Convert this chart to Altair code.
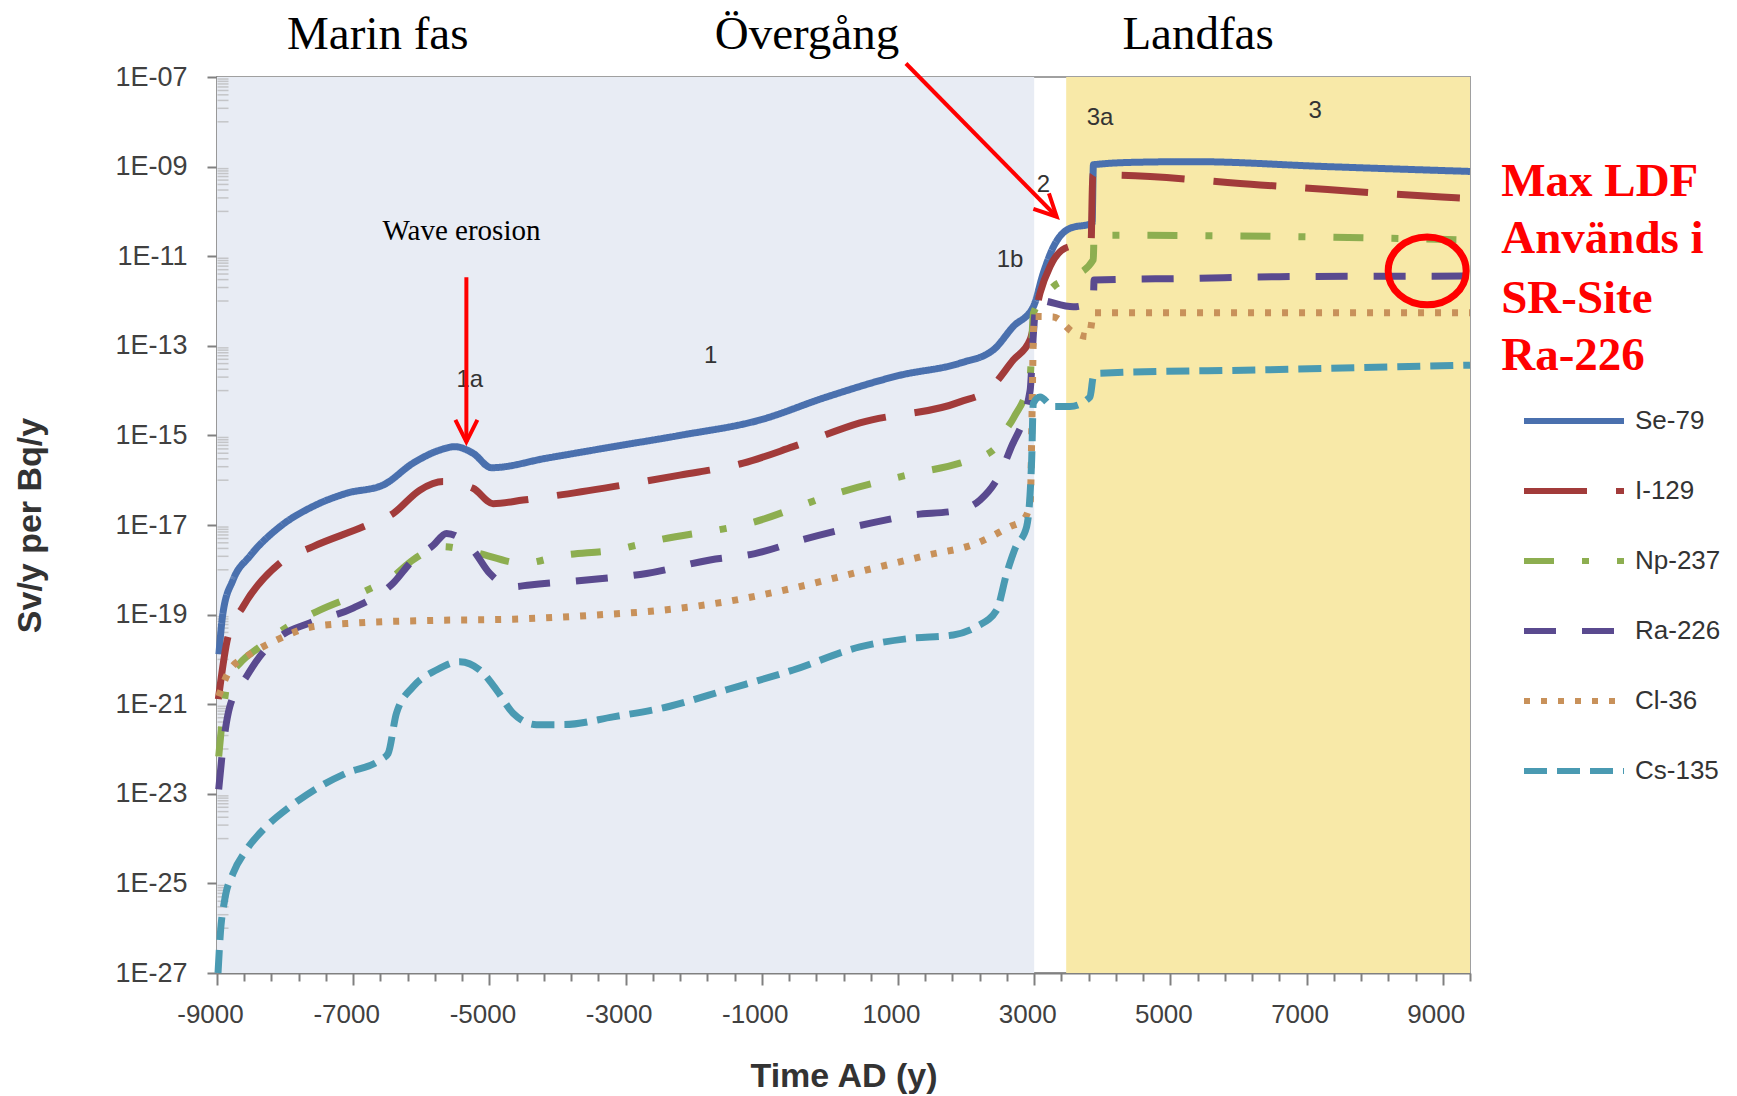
import altair as alt
import pandas as pd

# ---------------- data ----------------
nuclides = ["Se-79", "I-129", "Np-237", "Ra-226", "Cl-36", "Cs-135"]
colors = ["#4A70AE", "#A23B3A", "#8DAE50", "#5A4A8F", "#C8915A", "#4A9AB2"]
dashes = [[1, 0], [63, 29], [30, 28, 7, 28], [32, 26], [6, 11], [23, 10]]

se_x = [-8972, -8912, -8765, -8520, -8079, -7590, -7099, -6561, -6121, -5729, -5508, -5240, -4969, -4161,
        -3183, -2203, -1031, -48, 1029, 1910, 2400, 2693, 2987, 3134, 3281, 3526, 3850, 3870, 4500, 5337,
        7297, 9400]
se_y = [1.3e-20, 1.1e-19, 5.9e-19, 2.0e-18, 9.1e-18, 2.6e-17, 5.1e-17, 7.8e-17, 2.4e-16, 4.7e-16, 5.6e-16,
        4.0e-16, 1.9e-16, 3.1e-16, 5.6e-16, 1.0e-15, 2.2e-15, 7.2e-15, 2.2e-14, 4.1e-14, 8.1e-14, 2.7e-13,
        7.4e-13, 4.2e-12, 1.6e-11, 4.2e-11, 5.4e-11, 1.1e-9, 1.25e-9, 1.29e-9, 1.0e-9, 7.8e-10]

i_x = [-8980, -8839, -8618, -8079, -7590, -6855, -6415, -6022, -5680, -5240, -4946, -4505, -3183, -2203,
       -1273, -539, 441, 1910, 2350, 2693, 2939, 3086, 3233, 3450, 3673, 3835, 3860, 4015, 6317, 8987, 9400]
i_y = [1.3e-21, 3.2e-20, 1.5e-19, 1.4e-18, 3.3e-18, 9.1e-18, 1.8e-17, 6.0e-17, 9.3e-17, 6.6e-17, 3.0e-17,
       3.6e-17, 7.2e-17, 1.3e-16, 2.4e-16, 5.6e-16, 1.9e-15, 5.6e-15, 1.1e-14, 4.8e-14, 1.35e-13, 1.5e-12,
       5.9e-12, 1.5e-11, 1.8e-11, 1.9e-11, 6.5e-10, 6.5e-10, 3.9e-10, 2.1e-10, 1.95e-10]

n_x = [-8975, -8912, -8839, -8667, -8373, -8030, -7491, -6855, -6415, -6121, -5680, -5240, -4505, -3917,
       -3183, -2497, -1175, 99, 1225, 1910, 2400, 2546, 2700, 2940, 2990, 3281, 3575, 3868, 3880, 6660, 9400]
n_y = [6.8e-23, 6.3e-22, 3.5e-21, 8.1e-21, 1.9e-20, 4.6e-20, 1.26e-19, 3.2e-19, 7.1e-19, 1.66e-18, 3.3e-18,
       2.5e-18, 1.4e-18, 2.1e-18, 2.75e-18, 4.7e-18, 1.1e-17, 5.1e-17, 1.4e-16, 2.4e-16, 4.7e-16, 1.1e-15,
       2.5e-15, 2.0e-14, 5.4e-13, 2.1e-12, 3.5e-12, 8.3e-12, 2.95e-11, 2.75e-11, 2.3e-11]

r_x = [-8975, -8912, -8813, -8569, -8373, -8079, -7638, -7002, -6415, -6121, -5827, -5630, -5240, -4994,
       -4652, -4406, -3574, -2692, -1760, -1100, -400, 600, 1200, 1861, 2204, 2498, 2645, 2940, 2990, 3035,
       3575, 3868, 3880, 5300, 6600, 9400]
r_y = [1.26e-23, 1.1e-22, 8.7e-22, 4.1e-21, 1.15e-20, 3.2e-20, 6.5e-20, 1.4e-19, 5.0e-19, 1.66e-18, 3.5e-18,
       6.5e-18, 2.75e-18, 8.3e-19, 4.2e-19, 4.6e-19, 5.9e-19, 8.3e-19, 1.66e-18, 2.3e-18, 4.7e-18, 1.1e-17,
       1.66e-17, 2.1e-17, 3.6e-17, 1.4e-16, 4.7e-16, 1.0e-14, 2.0e-13, 1.05e-12, 7.4e-13, 1.0e-12, 2.95e-12,
       3.2e-12, 3.5e-12, 3.6e-12]

c_x = [-8975, -8813, -8569, -8127, -7590, -6952, -5875, -4652, -3427, -2449, -1517, -539, 441, 1421, 2155,
       2640, 2840, 2940, 3000, 3280, 3575, 3800, 3880, 9400]
c_y = [1.5e-21, 5.8e-21, 1.15e-20, 2.7e-20, 5.4e-20, 6.5e-20, 7.4e-20, 7.9e-20, 9.8e-20, 1.26e-19, 1.95e-19,
       3.9e-19, 9.1e-19, 2.1e-18, 3.9e-18, 9.1e-18, 1.3e-17, 3.0e-17, 4.5e-13, 4.4e-13, 2.0e-13, 1.6e-13,
       5.5e-13, 5.5e-13]

s_x = [-8985, -8950, -8887, -8765, -8569, -8275, -7932, -7491, -7099, -6610, -6488, -6365, -6121, -5777,
       -5435, -5141, -4896, -4652, -4308, -3917, -3183, -2350, -1517, -539, 441, 1176, 1812, 2155, 2449, 2596,
       2720, 2889, 2963, 2987, 3086, 3281, 3526, 3820, 3868, 3966, 6317, 9400]
s_y = [1e-27, 7.9e-27, 4.3e-26, 1.66e-25, 5.6e-25, 1.86e-24, 5.1e-24, 1.45e-23, 2.9e-23, 5.6e-23, 7.9e-23,
       6.3e-22, 2.45e-21, 5.8e-21, 8.9e-21, 5.8e-21, 2.1e-21, 6.3e-22, 3.5e-22, 3.5e-22, 5.2e-22, 9e-22,
       2.1e-21, 5.8e-21, 1.9e-20, 2.95e-20, 3.5e-20, 5.4e-20, 1.26e-19, 8.3e-19, 3e-18, 9.1e-18, 2.8e-16,
       5.2e-15, 7.2e-15, 4.4e-15, 4.4e-15, 7.2e-15, 2.0e-14, 2.45e-14, 2.9e-14, 3.7e-14]

# phase background bands
band_x0 = [-9000, 3470]
band_x1 = [3000, 9400]
band_col = ["#E8ECF4", "#F8E9A8"]

# axis ticks
x_ticks = list(range(-9000, 9401, 400))
y_labels = [1e-7, 1e-9, 1e-11, 1e-13, 1e-15, 1e-17, 1e-19, 1e-21, 1e-23, 1e-25, 1e-27]
y_minor = [k * 10.0 ** (e - 1) for e in range(-7, -26, -2) for k in range(1, 10)]

# annotations
phase_titles = ["Marin fas", "Övergång", "Landfas"]
phase_title_x = [-6639, -337, 5407]
phase_title_y = [4.3e-7, 4.3e-7, 4.3e-7]

zone_labels = ["1a", "1", "1b", "2", "3a", "3"]
zone_x = [-5288, -1752, 2645, 3134, 3967, 7125]
zone_y = [1.74e-14, 5.8e-14, 8.3e-12, 3.9e-10, 1.2e-8, 1.7e-8]

note_lines = ["Max LDF", "Används i", "SR-Site", "Ra-226"]
note_x = [9858, 9858, 9858, 9858]
note_y = [2.2e-10, 1.15e-11, 5.5e-13, 2.9e-14]

arrow_x0 = [-5338, 1117]
arrow_y0 = [3.4e-12, 2.0e-7]
arrow_x1 = [-5338, 3331]
arrow_y1 = [7.2e-16, 7.6e-11]
arrow_angle = [0, 315]

# ---------------- tables ----------------
series = [(se_x, se_y), (i_x, i_y), (n_x, n_y), (r_x, r_y), (c_x, c_y), (s_x, s_y)]
rows = []
for name, (xs, ys) in zip(nuclides, series):
    for k, (xv, yv) in enumerate(zip(xs, ys)):
        rows.append({"nuclide": name, "x": xv, "y": yv, "k": k})
lines_df = pd.DataFrame(rows)

bands_df = pd.DataFrame({"x0": band_x0, "x1": band_x1, "col": band_col,
                         "ylo": [1e-27, 1e-27], "yhi": [1e-7, 1e-7]})
minor_df = pd.DataFrame({"x": [-9000] * len(y_minor), "y": y_minor})
titles_df = pd.DataFrame({"x": phase_title_x, "y": phase_title_y, "t": phase_titles})
zones_df = pd.DataFrame({"x": zone_x, "y": zone_y, "t": zone_labels})
note_df = pd.DataFrame({"x": note_x, "y": note_y, "t": note_lines})
wave_df = pd.DataFrame({"x": [-5410], "y": [2.3e-11], "t": ["Wave erosion"]})
arrows_df = pd.DataFrame({"x": arrow_x0, "y": arrow_y0, "x2": arrow_x1, "y2": arrow_y1, "a": arrow_angle})
circle_df = pd.DataFrame({"x": [8771], "y": [4.7e-12]})

# ---------------- scales / axes ----------------
XS = alt.Scale(domain=[-9000, 9400], nice=False, zero=False)
YS = alt.Scale(type="log", domain=[1e-27, 1e-7], nice=False)

major_test = "(datum.value + 9000) % 2000 == 0"
XA = alt.Axis(
    values=x_ticks, grid=False,
    labelExpr=f"({major_test}) ? '' + datum.value : ''",
    tickSize={"condition": {"test": major_test, "value": 12}, "value": 8},
    tickColor="#808080", tickWidth=2, domainColor="#808080", domainWidth=2,
    labelFont="Liberation Sans", labelFontSize=26, labelColor="#404040", labelPadding=16,
    labelOffset=-7, labelFlush=False, labelOverlap=False,
    title="Time AD (y)", titleFont="Liberation Sans", titleFontSize=34, titleFontWeight="bold",
    titleColor="#333333", titleY=113, titleBaseline="alphabetic",
)
YA = alt.Axis(
    values=y_labels, grid=False,
    labelExpr="'1E-' + (abs(round(log(datum.value)/LN10)) < 10 ? '0' : '') + abs(round(log(datum.value)/LN10))",
    tickSize=10, tickColor="#808080", tickWidth=2, domainColor="#909090", domainWidth=2,
    labelFont="Liberation Sans", labelFontSize=27, labelColor="#404040", labelPadding=20,
    labelFlush=False, labelOverlap=False,
    title="Sv/y per Bq/y", titleFont="Liberation Sans", titleFontSize=34, titleFontWeight="bold",
    titleColor="#333333", titleX=-187, titleY=448, titleAngle=270, titleAlign="center",
    titleBaseline="middle",
)


def X(f="x"):
    return alt.X(f + ":Q", scale=XS, axis=XA)


def Y(f="y"):
    return alt.Y(f + ":Q", scale=YS, axis=YA)


bands = alt.Chart(bands_df).mark_rect().encode(
    x=X("x0"), x2="x1:Q", y=Y("ylo"), y2="yhi:Q",
    fill=alt.Fill("col:N", scale=None, legend=None),
)

minor = alt.Chart(minor_df).mark_tick(orient="horizontal", size=11, thickness=1.5,
                                      color="#b5b5b5", xOffset=6).encode(x=X(), y=Y())

leg = alt.Legend(title=None, orient="none", legendX=1304, legendY=291, padding=0,
                 symbolType="stroke", symbolSize=10000, symbolStrokeWidth=6,
                 labelFont="Liberation Sans", labelFontSize=26, labelColor="#333333",
                 labelOffset=8, rowPadding=4, labelLimit=300)

lines = alt.Chart(lines_df).mark_line(strokeWidth=7, strokeCap="butt", interpolate="monotone").encode(
    x=X(), y=Y(),
    color=alt.Color("nuclide:N", scale=alt.Scale(domain=nuclides, range=colors), legend=leg,
                    sort=nuclides),
    strokeDash=alt.StrokeDash("nuclide:N", scale=alt.Scale(domain=nuclides, range=dashes), legend=leg,
                              sort=nuclides),
    order="k:Q",
)

titles = alt.Chart(titles_df).mark_text(font="Liberation Serif", fontSize=47, color="black",
                                        align="center", baseline="alphabetic").encode(
    x=X(), y=Y(), text="t:N")

zones = alt.Chart(zones_df).mark_text(font="Liberation Sans", fontSize=24, color="#333333",
                                      align="center", baseline="middle").encode(
    x=X(), y=Y(), text="t:N")

wave = alt.Chart(wave_df).mark_text(font="Liberation Serif", fontSize=29, color="black",
                                    align="center", baseline="alphabetic").encode(
    x=X(), y=Y(), text="t:N")

notes = alt.Chart(note_df).mark_text(font="Liberation Serif", fontSize=47, fontWeight="bold",
                                     color="#FF0000", align="left", baseline="alphabetic").encode(
    x=X(), y=Y(), text="t:N")

shafts = alt.Chart(arrows_df).mark_rule(color="#FF0000", strokeWidth=4).encode(
    x=X(), y=Y(), x2="x2:Q", y2="y2:Q")

heads = alt.Chart(arrows_df).mark_point(shape="M-0.5,-1L0,0L0.5,-1", filled=False, color="#FF0000",
                                        strokeWidth=4, size=1936, opacity=1).encode(
    x=X("x2"), y=Y("y2"), angle=alt.Angle("a:Q", scale=None))

circle = alt.Chart(circle_df).mark_point(
    shape="M-1,0A1,0.87,0,1,0,1,0A1,0.87,0,1,0,-1,0Z", filled=False, color="#FF0000",
    strokeWidth=7, size=6084, opacity=1).encode(x=X(), y=Y())

chart = alt.layer(bands, minor, lines, zones, titles, wave, notes, shafts, heads, circle).properties(
    width=1253, height=896,
    autosize=alt.AutoSizeParams(type="none"),
    padding={"left": 209, "top": 69, "right": 259, "bottom": 123},
).configure_view(stroke="#a0a0a0", strokeWidth=2)

chart.save("out.html", embed_options={"renderer": "svg", "actions": False})
